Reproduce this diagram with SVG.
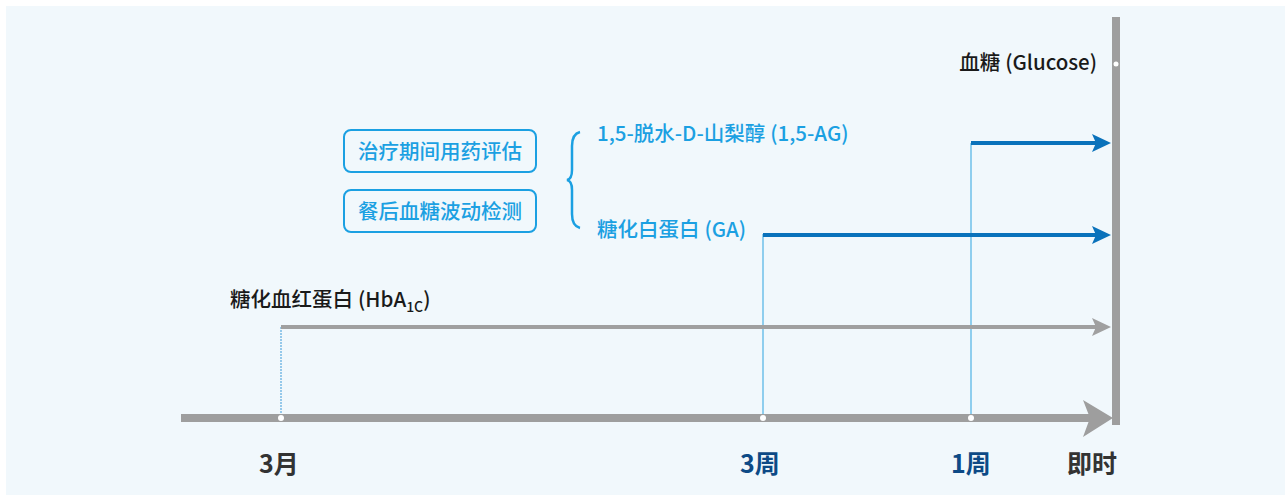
<svg xmlns="http://www.w3.org/2000/svg" width="1285" height="495" viewBox="0 0 1285 495">
<defs>
<style>
text{font-family:"Noto Sans CJK SC","Noto Sans",sans-serif;}
.lbl{font-size:20.5px;font-weight:500;fill:#1a1a1a;}
.blu{font-size:20.5px;font-weight:500;fill:#1ba0e2;}
.bt{font-size:20.5px;font-weight:500;fill:#1ba0e2;}
.box{fill:none;stroke:#1ba0e2;stroke-width:2;}
.ax{font-size:25px;font-weight:700;}
.dot{fill:#fff;}
</style>
</defs>
<rect x="6" y="6" width="1279" height="489" fill="#f1f8fc"/>
<g id="connectors">
<line x1="281" y1="327" x2="281" y2="418" stroke="#3a9ad9" stroke-width="1" stroke-dasharray="2,1"/>
<line x1="763" y1="234" x2="763" y2="418" stroke="#6ec1ea" stroke-width="1.5"/>
<line x1="971" y1="143" x2="971" y2="418" stroke="#6ec1ea" stroke-width="1.5"/>
<line x1="281" y1="327" x2="1096" y2="327" stroke="#a0a0a0" stroke-width="4"/>
<path d="M1092,318 L1111,327 L1092,336 L1096,327 Z" fill="#a0a0a0"/>
<line x1="763" y1="235" x2="1096" y2="235" stroke="#0a72bb" stroke-width="4"/>
<path d="M1092,226 L1111,235 L1092,244 L1096,235 Z" fill="#0a72bb"/>
<line x1="971" y1="143" x2="1096" y2="143" stroke="#0a72bb" stroke-width="4"/>
<path d="M1092,134 L1111,143 L1092,152 L1096,143 Z" fill="#0a72bb"/>
</g>
<g id="axis">
<rect x="181" y="414" width="910" height="8" fill="#9e9e9e"/>
<path d="M1083,400 L1113,418 L1083,437 L1090,418 Z" fill="#9e9e9e"/>
<rect x="1112" y="17" width="8" height="408" fill="#9e9e9e"/>
<circle class="dot" cx="281" cy="418" r="3"/>
<circle class="dot" cx="763" cy="418" r="3"/>
<circle class="dot" cx="971" cy="418" r="3"/>
<circle class="dot" cx="1116" cy="64" r="2.5"/>
</g>
<g id="glucose"><text class="lbl" x="1097" y="70" text-anchor="end">血糖<tspan dx="5">(Glucose)</tspan></text></g>
<g id="ag15"><text class="blu" x="597" y="141">1,5-脱水-D-山梨醇<tspan dx="5">(1,5-AG)</tspan></text></g>
<g id="ga"><text class="blu" x="597" y="237">糖化白蛋白<tspan dx="5">(GA)</tspan></text></g>
<g id="hba1c"><text class="lbl" x="230" y="307">糖化血红蛋白<tspan dx="5">(HbA</tspan><tspan font-size="14" dy="5">1C</tspan><tspan dy="-5">)</tspan></text></g>
<g id="box1"><rect class="box" x="344" y="130" width="192" height="42" rx="7"/><text class="bt" x="440" y="158.5" text-anchor="middle">治疗期间用药评估</text></g>
<g id="box2"><rect class="box" x="344" y="190" width="192" height="42" rx="7"/><text class="bt" x="440" y="218.5" text-anchor="middle">餐后血糖波动检测</text></g>
<g id="brace"><path d="M580,132 Q572,134 572,146 L572,170 Q572,179 567,180 Q572,181 572,190 L572,214 Q572,226 580,228" fill="none" stroke="#1ba0e2" stroke-width="2.5"/></g>
<g id="t3m"><text class="ax" x="279" y="473" text-anchor="middle" fill="#333">3月</text></g>
<g id="t3w"><text class="ax" x="760" y="473" text-anchor="middle" fill="#0d4a86">3周</text></g>
<g id="t1w"><text class="ax" x="971" y="473" text-anchor="middle" fill="#0d4a86">1周</text></g>
<g id="tnow"><text class="ax" x="1092" y="473" text-anchor="middle" fill="#333">即时</text></g>
</svg>
